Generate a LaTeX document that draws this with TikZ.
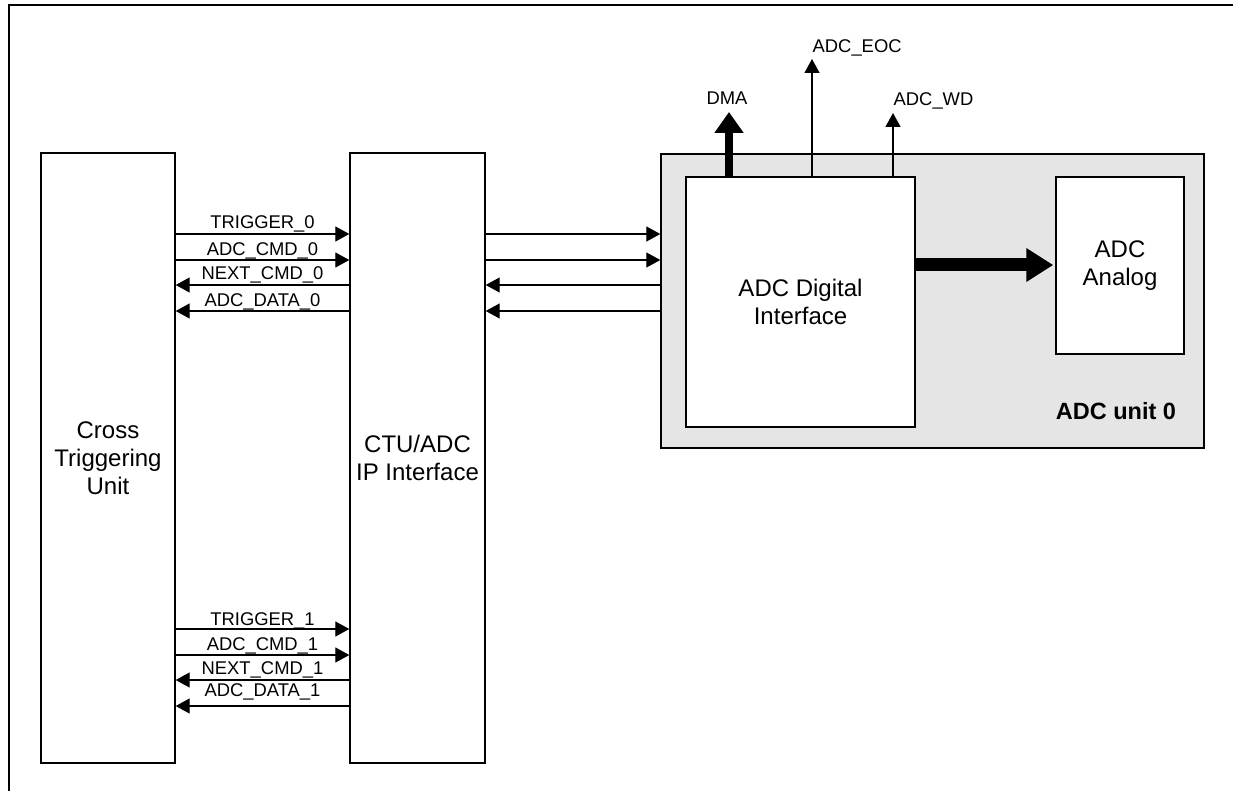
\documentclass[tikz,border=0pt]{standalone}
\usepackage{fontspec}
\setmainfont{Liberation Sans}
\usetikzlibrary{arrows.meta}
\begin{document}
\begin{tikzpicture}[x=1pt,y=-1pt,
  box/.style={draw, line width=1.4pt, fill=white, inner sep=0pt, align=center,
    font={\fontsize{24}{28}\selectfont}},
  unitbox/.style={draw, line width=1.4pt, fill=black!10, inner sep=0pt},
  unitlabel/.style={font={\fontsize{23.5}{28}\selectfont\bfseries}, inner sep=0pt},
  lab/.style={anchor=base, inner sep=0pt, font={\fontsize{18.4}{22}\selectfont}},
  sig/.style={line width=1.3pt, -{Triangle[length=14pt,width=15pt]}},
  dmaarrow/.style={line width=8.5pt, -{Triangle[length=21pt,width=28pt]}},
  busarrow/.style={line width=13pt, -{Triangle[length=27pt,width=32pt]}, shorten >=2pt}
]
\useasboundingbox (0,0) rectangle (1233,791);
\fill[white] (0,0) rectangle (1233,791);
\draw[line width=2.5pt] (1233,5) -- (9,5) -- (9,791);

% blocks
\node[box, minimum width=134pt, minimum height=610pt] (ctu) at (108,458) {Cross\\Triggering\\Unit};
\node[box, minimum width=135pt, minimum height=610pt] (ip) at (417.5,458) {CTU/ADC\\IP Interface};
\node[unitbox, minimum width=543pt, minimum height=294pt] (unit) at (932.5,301) {};
\node[box, minimum width=229pt, minimum height=250pt] (dig) at (800.5,302) {ADC Digital\\Interface};
\node[box, minimum width=128pt, minimum height=177pt] (ana) at (1120,265.5) {ADC\\Analog};
\node[unitlabel] (ul) at (1116,411) {ADC unit 0};

% signal rows
\coordinate (a1) at (0,234);
\coordinate (a2) at (0,260);
\coordinate (a3) at (0,285);
\coordinate (a4) at (0,311);
\coordinate (b1) at (0,629);
\coordinate (b2) at (0,655);
\coordinate (b3) at (0,680);
\coordinate (b4) at (0,706);

% CTU <-> CTU/ADC, channel 0
\draw[sig] (ctu.east |- a1) -- node[lab, yshift=5pt] {TRIGGER\_0} (ip.west |- a1);
\draw[sig] (ctu.east |- a2) -- node[lab, yshift=4pt] {ADC\_CMD\_0} (ip.west |- a2);
\draw[sig] (ip.west |- a3) -- node[lab, yshift=5pt] {NEXT\_CMD\_0} (ctu.east |- a3);
\draw[sig] (ip.west |- a4) -- node[lab, yshift=5pt] {ADC\_DATA\_0} (ctu.east |- a4);

% CTU <-> CTU/ADC, channel 1
\draw[sig] (ctu.east |- b1) -- node[lab, yshift=4pt] {TRIGGER\_1} (ip.west |- b1);
\draw[sig] (ctu.east |- b2) -- node[lab, yshift=5pt] {ADC\_CMD\_1} (ip.west |- b2);
\draw[sig] (ip.west |- b3) -- node[lab, yshift=6pt] {NEXT\_CMD\_1} (ctu.east |- b3);
\draw[sig] (ip.west |- b4) -- node[lab, yshift=10pt] {ADC\_DATA\_1} (ctu.east |- b4);

% CTU/ADC <-> ADC unit
\draw[sig] (ip.east |- a1) -- (unit.west |- a1);
\draw[sig] (ip.east |- a2) -- (unit.west |- a2);
\draw[sig] (unit.west |- a3) -- (ip.east |- a3);
\draw[sig] (unit.west |- a4) -- (ip.east |- a4);

% outputs of the digital interface
\coordinate (dmatip) at (729,112);
\coordinate (eoctip) at (812,59);
\coordinate (wdtip) at (893,113);
\draw[dmaarrow] (dig.north -| dmatip) -- (dmatip) node[lab, yshift=7pt, xshift=-2pt] {DMA};
\draw[sig] (dig.north -| eoctip) -- (eoctip) node[lab, anchor=base west, yshift=6pt] {ADC\_EOC};
\draw[sig] (dig.north -| wdtip) -- (wdtip) node[lab, anchor=base west, yshift=7pt] {ADC\_WD};

% digital -> analog bus
\coordinate (bus) at (0,265);
\draw[busarrow] (dig.east |- bus) -- (ana.west |- bus);
\end{tikzpicture}
\end{document}
